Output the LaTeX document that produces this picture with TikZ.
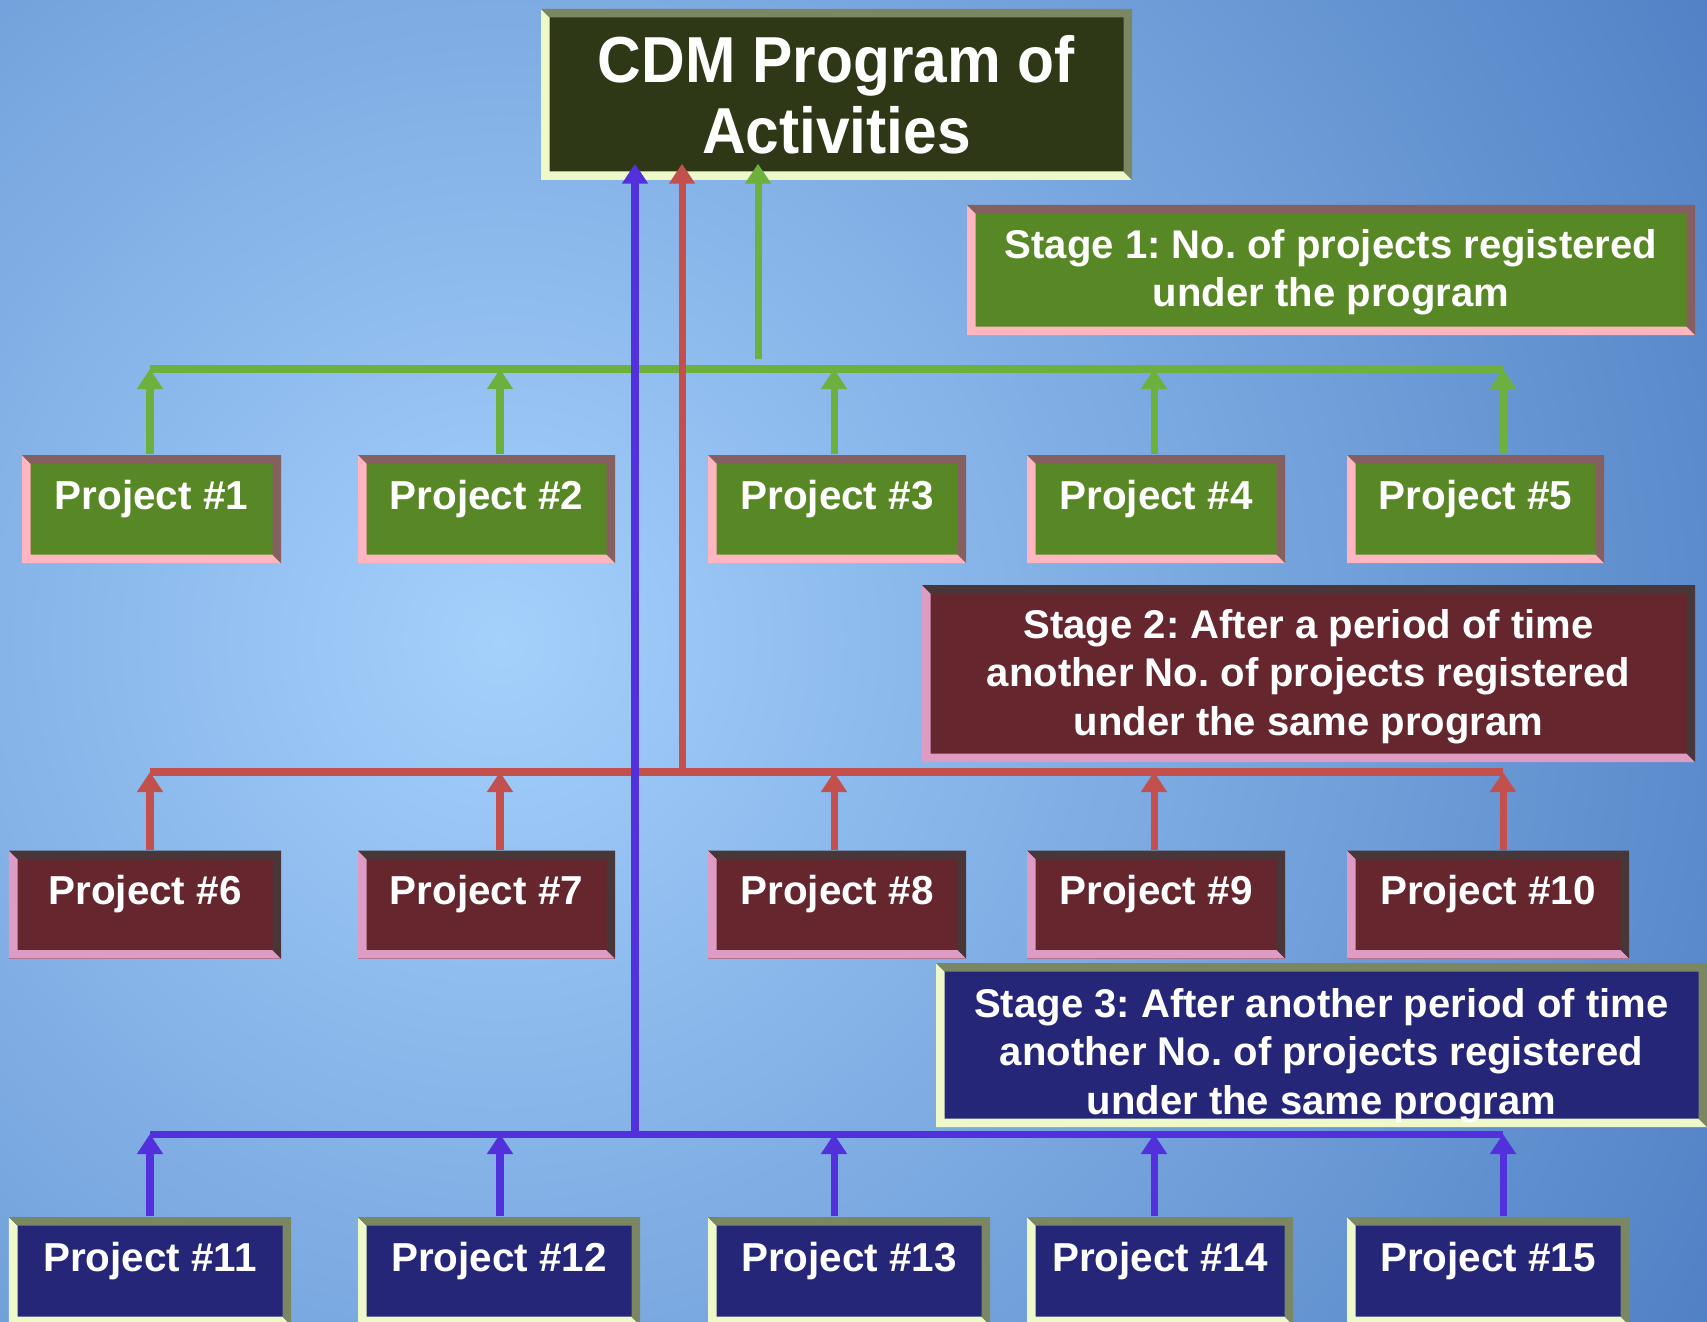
\documentclass[tikz,border=0pt]{standalone}
\usepackage{fontspec}
\setmainfont{Liberation Sans}
\newfontfamily\titlefont{Liberation Sans}[FakeStretch=0.93]
\usetikzlibrary{arrows.meta}
\frenchspacing

\definecolor{bgLight}{RGB}{164,208,252}
\definecolor{bgDark}{RGB}{50,100,176}
\definecolor{greenFace}{RGB}{88,136,38}
\definecolor{greenLight}{RGB}{255,182,193}
\definecolor{greenDark}{RGB}{134,96,96}
\definecolor{redFace}{RGB}{102,38,46}
\definecolor{redLight}{RGB}{222,156,196}
\definecolor{redDark}{RGB}{72,54,56}
\definecolor{blueFace}{RGB}{38,38,120}
\definecolor{blueLight}{RGB}{238,248,200}
\definecolor{blueDark}{RGB}{122,135,98}
\definecolor{titleFace}{RGB}{47,56,22}
\definecolor{lineGreen}{RGB}{110,176,62}
\definecolor{lineRed}{RGB}{196,80,78}
\definecolor{lineBlue}{RGB}{82,48,220}

\def\bev{0.085cm}
\tikzset{bevel/.style 2 args={path picture={
  \fill[#1] (path picture bounding box.south west) -- (path picture bounding box.north west)
    -- ([shift={(\bev,-\bev)}]path picture bounding box.north west)
    -- ([shift={(\bev,\bev)}]path picture bounding box.south west)
    -- ([shift={(-\bev,\bev)}]path picture bounding box.south east)
    -- (path picture bounding box.south east) -- cycle;
  \fill[#2] (path picture bounding box.north west) -- (path picture bounding box.north east)
    -- (path picture bounding box.south east)
    -- ([shift={(-\bev,\bev)}]path picture bounding box.south east)
    -- ([shift={(-\bev,-\bev)}]path picture bounding box.north east)
    -- ([shift={(\bev,-\bev)}]path picture bounding box.north west) -- cycle;
}}}

\begin{document}
\begin{tikzpicture}
    \tikzstyle{box} = [inner sep = 0pt, text = white, align = center,
        font = \bfseries\fontsize{11.4}{13.7}\selectfont];
    \tikzstyle{proj} = [box, minimum height = 1.08cm, text height = 0.3cm, text depth = 0.3cm,
        font = \bfseries\fontsize{11.5}{13}\selectfont];
    \tikzstyle{green} = [fill = greenFace, bevel = {greenLight}{greenDark}];
    \tikzstyle{red} = [fill = redFace, bevel = {redLight}{redDark}];
    \tikzstyle{blue} = [fill = blueFace, bevel = {blueLight}{blueDark}];
    \tikzstyle{bus} = [line width = 2pt];
    \tikzstyle{up} = [line width = 2pt, -{Triangle[width = 0.25cm, length = 0.2cm]}];
    % background:
    \useasboundingbox (0,0) rectangle (17.07,13.21);
    \begin{scope}
      \clip (0,0) rectangle (17.07,13.21);
      \shade[inner color = bgLight, outer color = bgDark] (5,6.8) circle (19cm);
    \end{scope}
    % boxes:
    \node[box, fill = titleFace, bevel = {blueLight}{blueDark}, minimum width = 5.91cm, minimum height = 1.71cm,
        text height = 1.34cm, text depth = 0.15cm, font = \titlefont\bfseries\fontsize{18.5}{20.4}\selectfont]
        (title) at (8.365,12.265) {CDM Program of\\Activities};
    \node[box, green, minimum width = 7.28cm, minimum height = 1.30cm, text height = 0.83cm, text depth = 0.1cm]
        (stage1) at (13.31,10.51) {Stage 1: No. of projects registered\\under the program};
    \node[box, red, minimum width = 7.73cm, minimum height = 1.77cm, text height = 1.33cm, text depth = 0.1cm]
        (stage2) at (13.085,6.475) {Stage 2: After a period of time\\another No. of projects registered\\under the same program};
    \node[box, blue, minimum width = 7.71cm, minimum height = 1.64cm, text height = 1.48cm, text depth = 0.1cm]
        (stage3) at (13.215,2.76) {Stage 3: After another period of time\\another No. of projects registered\\under the same program};
    % projects:
    \node[proj, green, minimum width = 2.59cm] (p1) at (1.515,8.12) {Project \#1};
    \node[proj, green, minimum width = 2.57cm] (p2) at (4.865,8.12) {Project \#2};
    \node[proj, green, minimum width = 2.58cm] (p3) at (8.37,8.12) {Project \#3};
    \node[proj, green, minimum width = 2.58cm] (p4) at (11.56,8.12) {Project \#4};
    \node[proj, green, minimum width = 2.57cm] (p5) at (14.755,8.12) {Project \#5};
    \node[proj, red, minimum width = 2.72cm] (p6) at (1.45,4.165) {Project \#6};
    \node[proj, red, minimum width = 2.57cm] (p7) at (4.865,4.165) {Project \#7};
    \node[proj, red, minimum width = 2.58cm] (p8) at (8.37,4.165) {Project \#8};
    \node[proj, red, minimum width = 2.58cm] (p9) at (11.56,4.165) {Project \#9};
    \node[proj, red, minimum width = 2.82cm] (p10) at (14.88,4.165) {Project \#10};
    \node[proj, blue, minimum width = 2.82cm] (p11) at (1.50,0.50) {Project \#11};
    \node[proj, blue, minimum width = 2.82cm] (p12) at (4.99,0.50) {Project \#12};
    \node[proj, blue, minimum width = 2.82cm] (p13) at (8.49,0.50) {Project \#13};
    \node[proj, blue, minimum width = 2.66cm] (p14) at (11.60,0.50) {Project \#14};
    \node[proj, blue, minimum width = 2.82cm] (p15) at (14.88,0.50) {Project \#15};
    % bus points:
    \coordinate (g1) at (1.50,9.52); \coordinate (g2) at (5.00,9.52); \coordinate (g3) at (8.34,9.52);
    \coordinate (g4) at (11.54,9.52); \coordinate (g5) at (15.03,9.52); \coordinate (g0) at (7.58,9.62);
    \coordinate (r1) at (1.50,5.49); \coordinate (r2) at (5.00,5.49); \coordinate (r3) at (8.34,5.49);
    \coordinate (r4) at (11.54,5.49); \coordinate (r5) at (15.03,5.49); \coordinate (r0) at (6.82,5.49);
    \coordinate (b1) at (1.50,1.87); \coordinate (b2) at (5.00,1.87); \coordinate (b3) at (8.34,1.87);
    \coordinate (b4) at (11.54,1.87); \coordinate (b5) at (15.03,1.87); \coordinate (b0) at (6.35,1.87);
    % lines:
    \draw[bus, lineGreen] (g1) -- (g5);
    \draw[bus, lineRed] (r1) -- (r5);
    \draw[bus, lineBlue] (b1) -- (b5);
    \draw[up, lineGreen] (g1 |- p1.north) -- (g1); \draw[up, lineGreen] (g2 |- p2.north) -- (g2);
    \draw[up, lineGreen] (g3 |- p3.north) -- (g3); \draw[up, lineGreen] (g4 |- p4.north) -- (g4);
    \draw[up, lineGreen] (g5 |- p5.north) -- (g5);
    \draw[up, lineRed] (r1 |- p6.north) -- (r1); \draw[up, lineRed] (r2 |- p7.north) -- (r2);
    \draw[up, lineRed] (r3 |- p8.north) -- (r3); \draw[up, lineRed] (r4 |- p9.north) -- (r4);
    \draw[up, lineRed] (r5 |- p10.north) -- (r5);
    \draw[up, lineBlue] (b1 |- p11.north) -- (b1); \draw[up, lineBlue] (b2 |- p12.north) -- (b2);
    \draw[up, lineBlue] (b3 |- p13.north) -- (b3); \draw[up, lineBlue] (b4 |- p14.north) -- (b4);
    \draw[up, lineBlue] (b5 |- p15.north) -- (b5);
    \draw[up, lineBlue, shorten >= -1.7mm] (b0) -- (b0 |- title.south);
    \draw[up, lineRed, shorten >= -1.7mm] (r0) -- (r0 |- title.south);
    \draw[up, lineGreen, shorten >= -1.7mm] (g0) -- (g0 |- title.south);
  \end{tikzpicture}
\end{document}
